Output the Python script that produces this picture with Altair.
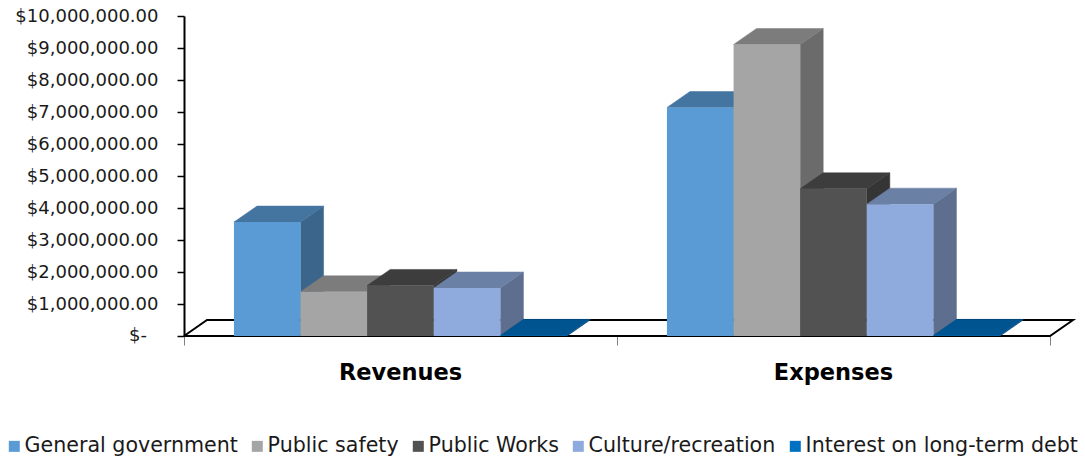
import altair as alt
import pandas as pd

# ---- data ----
categories = ["Revenues", "Expenses"]
series = ["General government", "Public safety", "Public Works",
          "Culture/recreation", "Interest on long-term debt"]
revenues = [3560000, 1380000, 1580000, 1500000, 20000]
expenses = [7140000, 9110000, 4600000, 4120000, 20000]
y_ticks = [0, 1000000, 2000000, 3000000, 4000000, 5000000,
           6000000, 7000000, 8000000, 9000000, 10000000]
zero_label = "$-"

# ---- styling ----
front_colors = ["#5B9BD5", "#A5A5A5", "#525252", "#8FAADC", "#0070C0"]
top_colors = ["#4474A0", "#7C7C7C", "#3D3D3D", "#6B80A5", "#00548F"]
side_colors = ["#3B658A", "#6B6B6B", "#353535", "#5D6E8F", "#00497D"]

W, H = 889, 320
UNIT_PX = 433.0            # pixels per category band
Y_MAX = 10000000
PX_PER_VAL = H / Y_MAX
DX = 23.0 / UNIT_PX        # depth offset (x units)
DY = 16.0 / PX_PER_VAL     # depth offset (value units)
n = len(series)
BW = 1.0 / (n + 1.5)       # bar width, Excel gap width 150%
GAP = 0.75 * BW

values = {"Revenues": revenues, "Expenses": expenses}

front_rows, side_rows, top_rows = [], [], []
for ci, cat in enumerate(categories):
    for si, s in enumerate(series):
        h = values[cat][si]
        x0 = ci + GAP + si * BW
        x1 = x0 + BW
        fid = f"{cat}-{si}"
        front_rows.append({"series": s, "x0": x0, "x1": x1, "base": 0, "h": h})
        side_rows += [
            {"face": fid, "x": x1, "lo": 0, "hi": h, "color": side_colors[si]},
            {"face": fid, "x": x1 + DX, "lo": DY, "hi": h + DY, "color": side_colors[si]},
        ]
        top_rows += [
            {"face": fid, "x": x0, "lo": h, "hi": h, "color": top_colors[si]},
            {"face": fid, "x": x0 + DX, "lo": h, "hi": h + DY, "color": top_colors[si]},
            {"face": fid, "x": x1, "lo": h, "hi": h + DY, "color": top_colors[si]},
            {"face": fid, "x": x1 + DX, "lo": h + DY, "hi": h + DY, "color": top_colors[si]},
        ]

front_df = pd.DataFrame(front_rows)
side_df = pd.DataFrame(side_rows)
top_df = pd.DataFrame(top_rows)
floor_df = pd.DataFrame({
    "o": [0, 1, 2, 3, 4],
    "x": [0, len(categories), len(categories) + DX, DX, 0],
    "y": [0, 0, DY, DY, 0],
})
cat_df = pd.DataFrame({"cat": categories, "xc": [i + 0.5 for i in range(len(categories))]})
zero_df = pd.DataFrame({"v": [0], "t": [zero_label]})

xs = alt.Scale(domain=[0, len(categories) + DX], nice=False, zero=False)
ys = alt.Scale(domain=[0, Y_MAX], nice=False)

FONT = "DejaVu Sans"
LABEL_COLOR = "#1a1a1a"

x_axis = alt.Axis(
    values=[0, 1, 2], labels=False, domain=False, grid=False, ticks=True,
    tickSize=9, tickColor="#808080", tickWidth=1, title=None)
y_axis = alt.Axis(
    values=y_ticks, grid=False, title=None,
    labelExpr="datum.value === 0 ? '' : format(datum.value, '$,.2f')",
    labelFont=FONT, labelFontSize=18, labelColor=LABEL_COLOR, labelPadding=19,
    tickSize=7, tickColor="black", tickWidth=1.5,
    domainColor="black", domainWidth=2)

floor = alt.Chart(floor_df).mark_line(color="black", strokeWidth=2).encode(
    x=alt.X("x:Q", scale=xs, axis=x_axis),
    y=alt.Y("y:Q", scale=ys, axis=y_axis),
    order="o:Q",
)

sides = alt.Chart(side_df).mark_area(strokeWidth=0.5).encode(
    x=alt.X("x:Q", scale=xs, axis=x_axis),
    y=alt.Y("lo:Q", scale=ys, axis=y_axis),
    y2="hi:Q",
    detail="face:N",
    fill=alt.Fill("color:N", scale=None),
    stroke=alt.Stroke("color:N", scale=None),
)

tops = alt.Chart(top_df).mark_area(strokeWidth=0.5).encode(
    x=alt.X("x:Q", scale=xs, axis=x_axis),
    y=alt.Y("lo:Q", scale=ys, axis=y_axis),
    y2="hi:Q",
    detail="face:N",
    fill=alt.Fill("color:N", scale=None),
    stroke=alt.Stroke("color:N", scale=None),
)

fronts = alt.Chart(front_df).mark_rect().encode(
    x=alt.X("x0:Q", scale=xs, axis=x_axis),
    x2="x1:Q",
    y=alt.Y("base:Q", scale=ys, axis=y_axis),
    y2="h:Q",
    color=alt.Color("series:N", scale=alt.Scale(domain=series, range=front_colors),
                    legend=alt.Legend(
                        title=None, orient="none", legendX=-180, legendY=420,
                        direction="horizontal", columns=5, symbolType="square",
                        symbolSize=121, symbolStrokeWidth=0, labelFont=FONT,
                        labelFontSize=20.6, labelColor=LABEL_COLOR, labelOffset=0,
                        columnPadding=9, padding=0, labelLimit=500)),
)

labels = alt.Chart(cat_df).mark_text(
    font=FONT, fontSize=22.5, fontWeight="bold", color="black", baseline="middle"
).encode(
    x=alt.X("xc:Q", scale=xs, axis=x_axis),
    y=alt.value(357),
    text="cat:N",
)

zero_text = alt.Chart(zero_df).mark_text(
    font=FONT, fontSize=18, color=LABEL_COLOR, align="right", baseline="middle"
).encode(
    x=alt.value(-37),
    y=alt.Y("v:Q", scale=ys, axis=y_axis),
    text="t:N",
)

chart = alt.layer(floor, sides, tops, fronts, labels, zero_text).properties(
    width=W, height=H,
    padding={"left": 184, "top": 16, "right": 12, "bottom": 125},
    autosize=alt.AutoSizeParams(type="none"),
).configure_view(stroke=None)

chart.save("out.html", embed_options={"renderer": "svg", "actions": False})
